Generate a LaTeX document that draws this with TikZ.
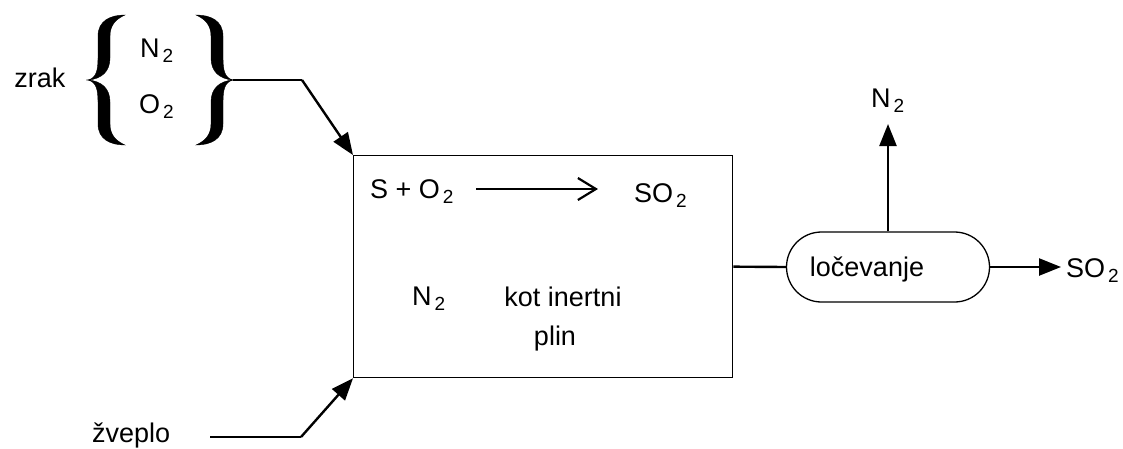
\documentclass[tikz,border=0pt]{standalone}
\usepackage{fontspec}
\setmainfont{Liberation Sans}
\usetikzlibrary{arrows.meta,shapes.misc}
\newcommand{\idx}[1]{\hspace{3pt}\raisebox{-5pt}{\fontsize{19}{19}\selectfont #1}}
\begin{document}
\begin{tikzpicture}[x=1pt,y=-1pt,
  lbl/.style={inner sep=0pt,font=\fontsize{27}{31}\selectfont},
  flow/.style={line width=2.4pt,-{Triangle[length=22pt,width=17pt]}},
  plain/.style={line width=2.4pt},
  bracefill/.style={fill=black,draw=black,line width=0.4pt}]
\useasboundingbox (0,0) rectangle (1123,448);
% braces
\begin{scope}[shift={(88,80)}]
  \fill[bracefill] (0,0) .. controls (8,-2) and (10,-9) .. (10,-22) -- (10,-44)
    .. controls (10,-59) and (22,-65) .. (37,-65)
    .. controls (28,-61) and (22,-55) .. (22,-44) -- (22,-22)
    .. controls (22,-9) and (14,-1) .. (0,0) -- cycle;
  \fill[bracefill] (0,0) .. controls (8,2) and (10,9) .. (10,22) -- (10,44)
    .. controls (10,59) and (22,65) .. (37,65)
    .. controls (28,61) and (22,55) .. (22,44) -- (22,22)
    .. controls (22,9) and (14,1) .. (0,0) -- cycle;
\end{scope}
\begin{scope}[shift={(233,80)},xscale=-1]
  \fill[bracefill] (0,0) .. controls (8,-2) and (10,-9) .. (10,-22) -- (10,-44)
    .. controls (10,-59) and (22,-65) .. (37,-65)
    .. controls (28,-61) and (22,-55) .. (22,-44) -- (22,-22)
    .. controls (22,-9) and (14,-1) .. (0,0) -- cycle;
  \fill[bracefill] (0,0) .. controls (8,2) and (10,9) .. (10,22) -- (10,44)
    .. controls (10,59) and (22,65) .. (37,65)
    .. controls (28,61) and (22,55) .. (22,44) -- (22,22)
    .. controls (22,9) and (14,1) .. (0,0) -- cycle;
\end{scope}
\coordinate (airout) at (233,80);
\coordinate (airbend) at (302,80);
\coordinate (sbend) at (301,437);
\coordinate (sstart) at (210,437);
\coordinate (n2tip) at (888,124);
\coordinate (so2tip) at (1061,267);

\node[lbl,anchor=base] (zrak) at (40,87) {zrak};
\node[lbl,anchor=base west] (airn2) at (140,57) {N\idx{2}};
\node[lbl,anchor=base west] (airo2) at (139,113) {O\idx{2}};
\node[lbl,anchor=base west] (zveplo) at (92,442) {žveplo};

\node[draw,line width=1.3pt,minimum width=379pt,minimum height=222pt,anchor=north west,inner sep=0pt] (reactor) at (353,155) {};

\node[lbl,anchor=base west] (reac) at (370,198) {S + O\idx{2}};
\node[lbl,anchor=base west] (prod) at (634,202) {SO\idx{2}};
\coordinate (rarrs) at (476,189);
\coordinate (rarre) at (598,189);
\draw[line width=2.2pt,-{Straight Barb[length=18pt,width=22pt,line width=2.2pt]}] (rarrs) -- (rarre);
\node[lbl,anchor=base west] (inert) at (412,305) {N\idx{2}};
\node[lbl,anchor=base] (kot) at (563,306) {kot inertni};
\node[lbl,anchor=base] (plin) at (555,345) {plin};

\node[draw,line width=1.3pt,rounded rectangle,minimum width=203pt,minimum height=70pt,inner sep=0pt] (sep) at (888,267) {};
\node[lbl,anchor=base] (seplbl) at (867,276) {ločevanje};

\node[lbl,anchor=base west] (n2out) at (871,107) {N\idx{2}};
\node[lbl,anchor=base west] (so2out) at (1066,277) {SO\idx{2}};

\draw[plain] (airout) -- (airbend);
\draw[flow] (airbend) -- (reactor.north west);
\draw[plain] (sstart) -- (sbend);
\draw[flow] (sbend) -- (reactor.south west);
\draw[plain] (reactor.east) -- (sep.west);
\draw[flow] (sep.north) -- (n2tip);
\draw[flow] (sep.east) -- (so2tip);
\end{tikzpicture}
\end{document}
